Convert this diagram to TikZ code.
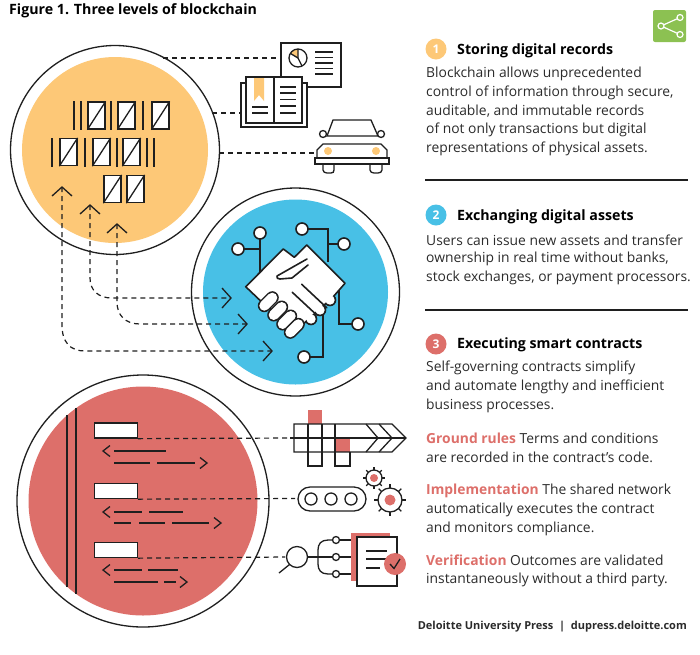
\documentclass[tikz,border=0pt]{standalone}
\usepackage{fontspec}
\usetikzlibrary{calc}
\setmainfont{Open Sans}
\definecolor{inkblack}{HTML}{1F1F1F}
\definecolor{yellowfill}{HTML}{FDC877}
\definecolor{bluefill}{HTML}{48C0E6}
\definecolor{redfill}{HTML}{DD6F6A}
\definecolor{greenicon}{HTML}{8CC152}
\definecolor{textgray}{HTML}{2B2B2B}
\tikzset{
  ink/.style={draw=inkblack,line width=1.3pt},
  ring/.style={draw=inkblack,line width=1.3pt,circle,inner sep=0pt,fill=white},
  link/.style={draw=inkblack,line width=1.2pt,dash pattern=on 5pt off 4pt},
  body/.style={anchor=west,inner sep=0pt,text=textgray,font=\fontsize{13.85}{16}\selectfont},
  head/.style={anchor=west,inner sep=0pt,text=black,font=\fontsize{14.2}{16}\selectfont\bfseries},
  rule/.style={draw=inkblack,line width=1.2pt},
  badge/.style={circle,minimum size=21pt,inner sep=0pt,text=white,font=\fontsize{12}{12}\selectfont\bfseries},
  blocksq/.style={draw=inkblack,line width=1.3pt,fill=white,minimum width=17pt,minimum height=27pt,inner sep=0pt},
  finger/.style={line cap=round},
}
\newcommand{\blockat}[3]{%
  \node[blocksq] (#1) at (#2,#3) {};
  \draw[ink] (#1.south west) -- (#1.north east);
}
\begin{document}
\begin{tikzpicture}[x=1pt,y=-1pt]
\useasboundingbox (0,0) rectangle (700,654);
\node[anchor=west,inner sep=0pt,font=\fontsize{14.2}{16}\selectfont\bfseries] (title) at (9,11) {Figure 1. Three levels of blockchain};

% circles
\node[ring,minimum size=209pt] (yellowring) at (115,150) {};
\node[circle,fill=yellowfill,minimum size=186pt,inner sep=0pt] (yellowdisc) at (115,150) {};
\node[ring,minimum size=208pt] (bluering) at (295.5,292) {};
\node[circle,fill=bluefill,minimum size=185pt,inner sep=0pt] (bluedisc) at (295.5,292) {};
\node[ring,minimum size=252pt] (redring) at (143,501) {};
\node[circle,fill=redfill,minimum size=229pt,inner sep=0pt] (reddisc) at (143,501) {};

% blocks
\foreach \x in {74,81,111,143}{
  \draw[ink] (\x,101) -- (\x,130);
}
\foreach \x in {52,85,117,147,154}{
  \draw[ink] (\x,138) -- (\x,167);
}
\blockat{b1}{96.5}{115.5}
\blockat{b2}{126.5}{115.5}
\blockat{b3}{160.5}{115.5}
\blockat{b4}{68.5}{152}
\blockat{b5}{101.5}{152}
\blockat{b6}{131.5}{152}
\blockat{b7}{112.5}{189}
\blockat{b8}{135.5}{189}

% dashed links to the blue circle
\coordinate (up1) at (62,187);
\coordinate (up2) at (90,205);
\coordinate (up3) at (117,224);
\coordinate (right1) at (272,351);
\coordinate (right2) at (231,298);
\coordinate (right3) at (247,324);
\draw[link] (up1) -- (62,325) .. controls (62,342) and (70,351) .. (85,351) -- (right1);
\draw[link] (up2) -- (90,278) .. controls (90,290) and (98,298) .. (112,298) -- (right2);
\draw[link] (up3) -- (117,302) .. controls (117,315) and (125,324) .. (140,324) -- (right3);
\foreach \n in {up1,up2,up3}{
  \draw[ink] ([shift={(-10,9)}]\n) -- (\n) -- ([shift={(10,9)}]\n);
}
\foreach \n in {right1,right2,right3}{
  \draw[ink] ([shift={(-9,-10)}]\n) -- (\n) -- ([shift={(-9,10)}]\n);
}

% report
\node[draw=inkblack,line width=1.3pt,fill=white,minimum width=60pt,minimum height=44pt,inner sep=0pt] (report) at (311,65) {};
\coordinate (pie) at (298,58);
\fill[yellowfill] (pie) -- (298,49) arc (-90:-150:9) -- cycle;
\draw[ink] (pie) circle (9);
\draw[ink] (298,49) -- (pie) -- (302,66);
\draw[ink] (pie) -- (290.5,53.5);
\foreach \y in {52,57.5,63,68.5,74}{
  \draw[ink] (315,\y) -- (333,\y);
}
% book
\node[draw=inkblack,line width=1.3pt,fill=white,minimum width=66pt,minimum height=44pt,inner sep=0pt] (bookback) at (274,105) {};
\node[draw=inkblack,line width=1.3pt,fill=white,minimum width=56pt,minimum height=46pt,inner sep=0pt] (bookpage) at (274,100) {};
\draw[ink] (bookpage.north) -- (bookpage.south);
\fill[yellowfill] (254,78) -- (264,78) -- (264,101) -- (259,95) -- (254,101) -- cycle;
\foreach \y in {107,113}{
  \draw[ink] (252,\y) -- (268,\y);
}
\foreach \y in {87,93,99.5,106,113}{
  \draw[ink] (280,\y) -- (296,\y);
}
% car
\coordinate (carleft) at (316,153);
\draw[ink] (327,136) -- (333,120) -- (371,120) -- (378,136) -- cycle;
\draw[ink] (323,164) -- (323,170) .. controls (323,172) and (325,173) .. (327,173) -- (331,173) .. controls (333,173) and (334,172) .. (334,170) -- (334,164);
\draw[ink] (370,164) -- (370,170) .. controls (370,172) and (372,173) .. (374,173) -- (378,173) .. controls (380,173) and (382,172) .. (382,170) -- (382,164);
\draw[ink,fill=white] (323,134) circle (3.5);
\draw[ink,fill=white] (381,134) circle (3.5);
\draw[ink] (317,158) -- (317,150) -- (323,144) -- (381,144) -- (387,150) -- (387,158);
\draw[ink] (315,158) rectangle (389,164);
\fill[yellowfill] (328,151) circle (4);
\fill[yellowfill] (376,151) circle (4);

% links to the top icons
\draw[link] (163,58) -- (report.west |- pie);
\draw[link] (212,113) -- (bookback.west |- 0,113);
\draw[link] (219,153) -- (carleft);

% circuit
\draw[ink,line width=1.6pt] (260,233) -- (260,272);
\draw[ink,line width=1.6pt] (238,249) -- (260,249);
\draw[ink,line width=1.6pt] (302,229) -- (328,229) -- (328,262);
\draw[ink,line width=1.6pt] (344,244) -- (328,244);
\draw[ink,line width=1.6pt] (339,290) -- (339,324) -- (358,324);
\draw[ink,line width=1.6pt] (304,357) -- (323,357) -- (323,315);
\foreach \cx/\cy in {260/233,238/249,302/229,344/244,358/324,304/357}{
  \draw[ink,line width=1.6pt,fill=white] (\cx,\cy) circle (6);
}
% handshake
\foreach \cx/\cy in {330/300,320/310,311/319}{
  \fill[inkblack] (\cx,\cy) circle (6.3);
}
\draw[ink,line width=1.6pt,fill=white,line join=round] (283.3,249) -- (245.7,286.7) -- (266.7,306.7) -- (300,327) -- (333,297) -- (345,283.3) -- (306.7,245) -- (294.3,257.3) -- cycle;
\foreach \cx/\cy in {330/300,320/310,311/319}{
  \fill[white] (\cx,\cy) circle (4.7);
}
\foreach \ax/\ay in {264.3/305.7,273.7/315,282.7/324,290.3/332.3}{
  \draw[finger,line width=13pt,draw=inkblack] (\ax,\ay) -- ++(8,-8);
  \draw[finger,line width=10pt,draw=white] (\ax,\ay) -- ++(8,-8);
}
\draw[ink,line width=1.6pt,line cap=round,line join=round,fill=white] (307,259) -- (277,276) .. controls (276,278) and (278,279) .. (280,279) -- (292,278) -- (308,265);
\draw[ink,line width=1.6pt,line cap=round] (301.7,284.3) -- (326.7,307.7);
\draw[ink,line width=1.6pt,line cap=round] (292.3,292.3) -- (316.7,315);

% contract
\draw[draw=inkblack,line width=1.4pt] (67,415) -- (67,587);
\draw[draw=inkblack,line width=1.4pt] (76,408) -- (76,594);
\foreach \n/\y in {clausea/430.5,clauseb/491,clausec/550}{
  \node[draw=inkblack,line width=1.3pt,fill=white,minimum width=43pt,minimum height=15pt,inner sep=0pt] (\n) at (116,\y) {};
}
\coordinate (gridend) at (290,438);
\coordinate (capsend) at (295,498.5);
\coordinate (lensend) at (285,557);
\draw[link] (clausea.south east) -- (gridend);
\draw[link] (clauseb.south east) -- (capsend);
\draw[link] (clausec.south east) -- (lensend);
\foreach \y in {451,512,570}{
  \draw[ink] (110,\y-5.5) -- (103,\y) -- (110,\y+5.5);
}
\foreach \tx/\y in {207/463,221/523,187/582}{
  \draw[ink] (\tx-7,\y-5.5) -- (\tx,\y) -- (\tx-7,\y+5.5);
}
\foreach \a/\b/\y in {114/166/451,114/150/463,157/195/463,114/142/512,149/183/512,114/131/523,139/165/523,172/209/523,114/142/570,148/178/570,114/158/582,164/176/582}{
  \draw[ink] (\a,\y) -- (\b,\y);
}

% grid icon
\fill[redfill] (308,410) rectangle (322,424);
\fill[redfill] (336,438) rectangle (350,452);
\draw[ink] (294,424) -- (392,424) -- (406,438) -- (392,452) -- (294,452) -- cycle;
\draw[ink] (gridend) -- (406,438);
\draw[ink] (308,424) -- (308,466) -- (322,466) -- (322,424);
\draw[ink] (335,424) -- (335,466) -- (350,466) -- (350,452);
\draw[ink] (366,424) -- (378,438) -- (366,452);
\draw[ink] (379,424) -- (392,438) -- (379,452);

% capsule and gears
\node[draw=inkblack,line width=1.3pt,rounded corners=12pt,minimum width=68pt,minimum height=24pt,inner sep=0pt] (capsule) at (332,499) {};
\foreach \x in {311,331,351}{
  \draw[ink] (\x,499) circle (6);
}
\fill[redfill] (374,478) circle (4);
\draw[ink] (374,478) circle (8);
\fill[redfill] (390,500) circle (5.5);
\draw[ink] (390,500) circle (12);
\foreach \a in {0,45,...,315}{
  \draw[ink] ($(374,478)+(\a:8)$) -- ($(374,478)+(\a:11)$);
  \draw[ink] ($(390,500)+(\a:12)$) -- ($(390,500)+(\a:16)$);
}

% verification icon
\draw[ink] (297,557) circle (10.5);
\draw[ink] (289.5,564.5) -- (279,573);
\draw[ink] (307.5,557) -- (332,557);
\draw[ink] (332.5,540) -- (328,540) .. controls (321,540) and (318,544) .. (318,550) -- (318,564) .. controls (318,570) and (321,574) .. (328,574) -- (332.5,574);
\foreach \y in {540,557,574}{
  \draw[ink] (336,\y) circle (3.5);
  \draw[ink] (339.5,\y) -- (352,\y);
}
\fill[redfill] (351,533) rectangle (390,581);
\node[draw=inkblack,line width=1.3pt,fill=white,minimum width=40pt,minimum height=49pt,inner sep=0pt] (contractdoc) at (377,561.5) {};
\foreach \x/\y in {387/551,387/559,380/568}{
  \draw[ink] (366,\y) -- (\x,\y);
}
\fill[redfill] (395,564) circle (11);
\draw[ink] (390,564) -- (394,568.5) -- (400,559);

% share icon
\fill[greenicon,rounded corners=2pt] (653,10) rectangle (686,42);
\draw[white,line width=1.2pt] (680,17.5) -- (661,26) -- (680,34.5);
\foreach \cx/\cy in {680/17.5,661/26,680/34.5}{
  \draw[white,line width=1.2pt,fill=greenicon] (\cx,\cy) circle (3);
}

% text
\node[badge,fill=yellowfill] (badgea) at (436,49) {1};
\node[head] (heada) at (457,50.5) {Storing digital records};
\node[body] (a1) at (426,73.5) {Blockchain allows unprecedented};
\node[body] (a2) at (426,93) {control of information through secure,};
\node[body] (a3) at (426,111.5) {auditable, and immutable records};
\node[body] (a4) at (426,130) {of not only transactions but digital};
\node[body] (a5) at (426,149) {representations of physical assets.};
\draw[rule] (425,180) -- (688,180);
\node[badge,fill=bluefill] (badgeb) at (436,215) {2};
\node[head] (headb) at (457,216.5) {Exchanging digital assets};
\node[body] (b1) at (426,240) {Users can issue new assets and transfer};
\node[body] (b2) at (426,259) {ownership in real time without banks,};
\node[body] (b3) at (426,278) {stock exchanges, or payment processors.};
\draw[rule] (425,310) -- (688,310);
\node[badge,fill=redfill] (badgec) at (436,344) {3};
\node[head] (headc) at (457,345) {Executing smart contracts};
\node[body] (c1) at (426,367.5) {Self-governing contracts simplify};
\node[body] (c2) at (426,386.5) {and automate lengthy and inefficient};
\node[body] (c3) at (426,405.5) {business processes.};
\node[body] (d1) at (426,438.5) {\textbf{\textcolor{redfill}{Ground rules}} Terms and conditions};
\node[body] (d2) at (426,457.5) {are recorded in the contract’s code.};
\node[body] (e1) at (426,490.5) {\textbf{\textcolor{redfill}{Implementation}} The shared network};
\node[body] (e2) at (426,509.5) {automatically executes the contract};
\node[body] (e3) at (426,528.5) {and monitors compliance.};
\node[body] (f1) at (426,560.5) {\textbf{\textcolor{redfill}{Verification}} Outcomes are validated};
\node[body] (f2) at (426,579.5) {instantaneously without a third party.};
\node[anchor=east,inner sep=0pt,text=textgray,font=\fontsize{11}{13}\selectfont\bfseries] (credit) at (687,627) {Deloitte University Press \ | \ dupress.deloitte.com};
\end{tikzpicture}
\end{document}
